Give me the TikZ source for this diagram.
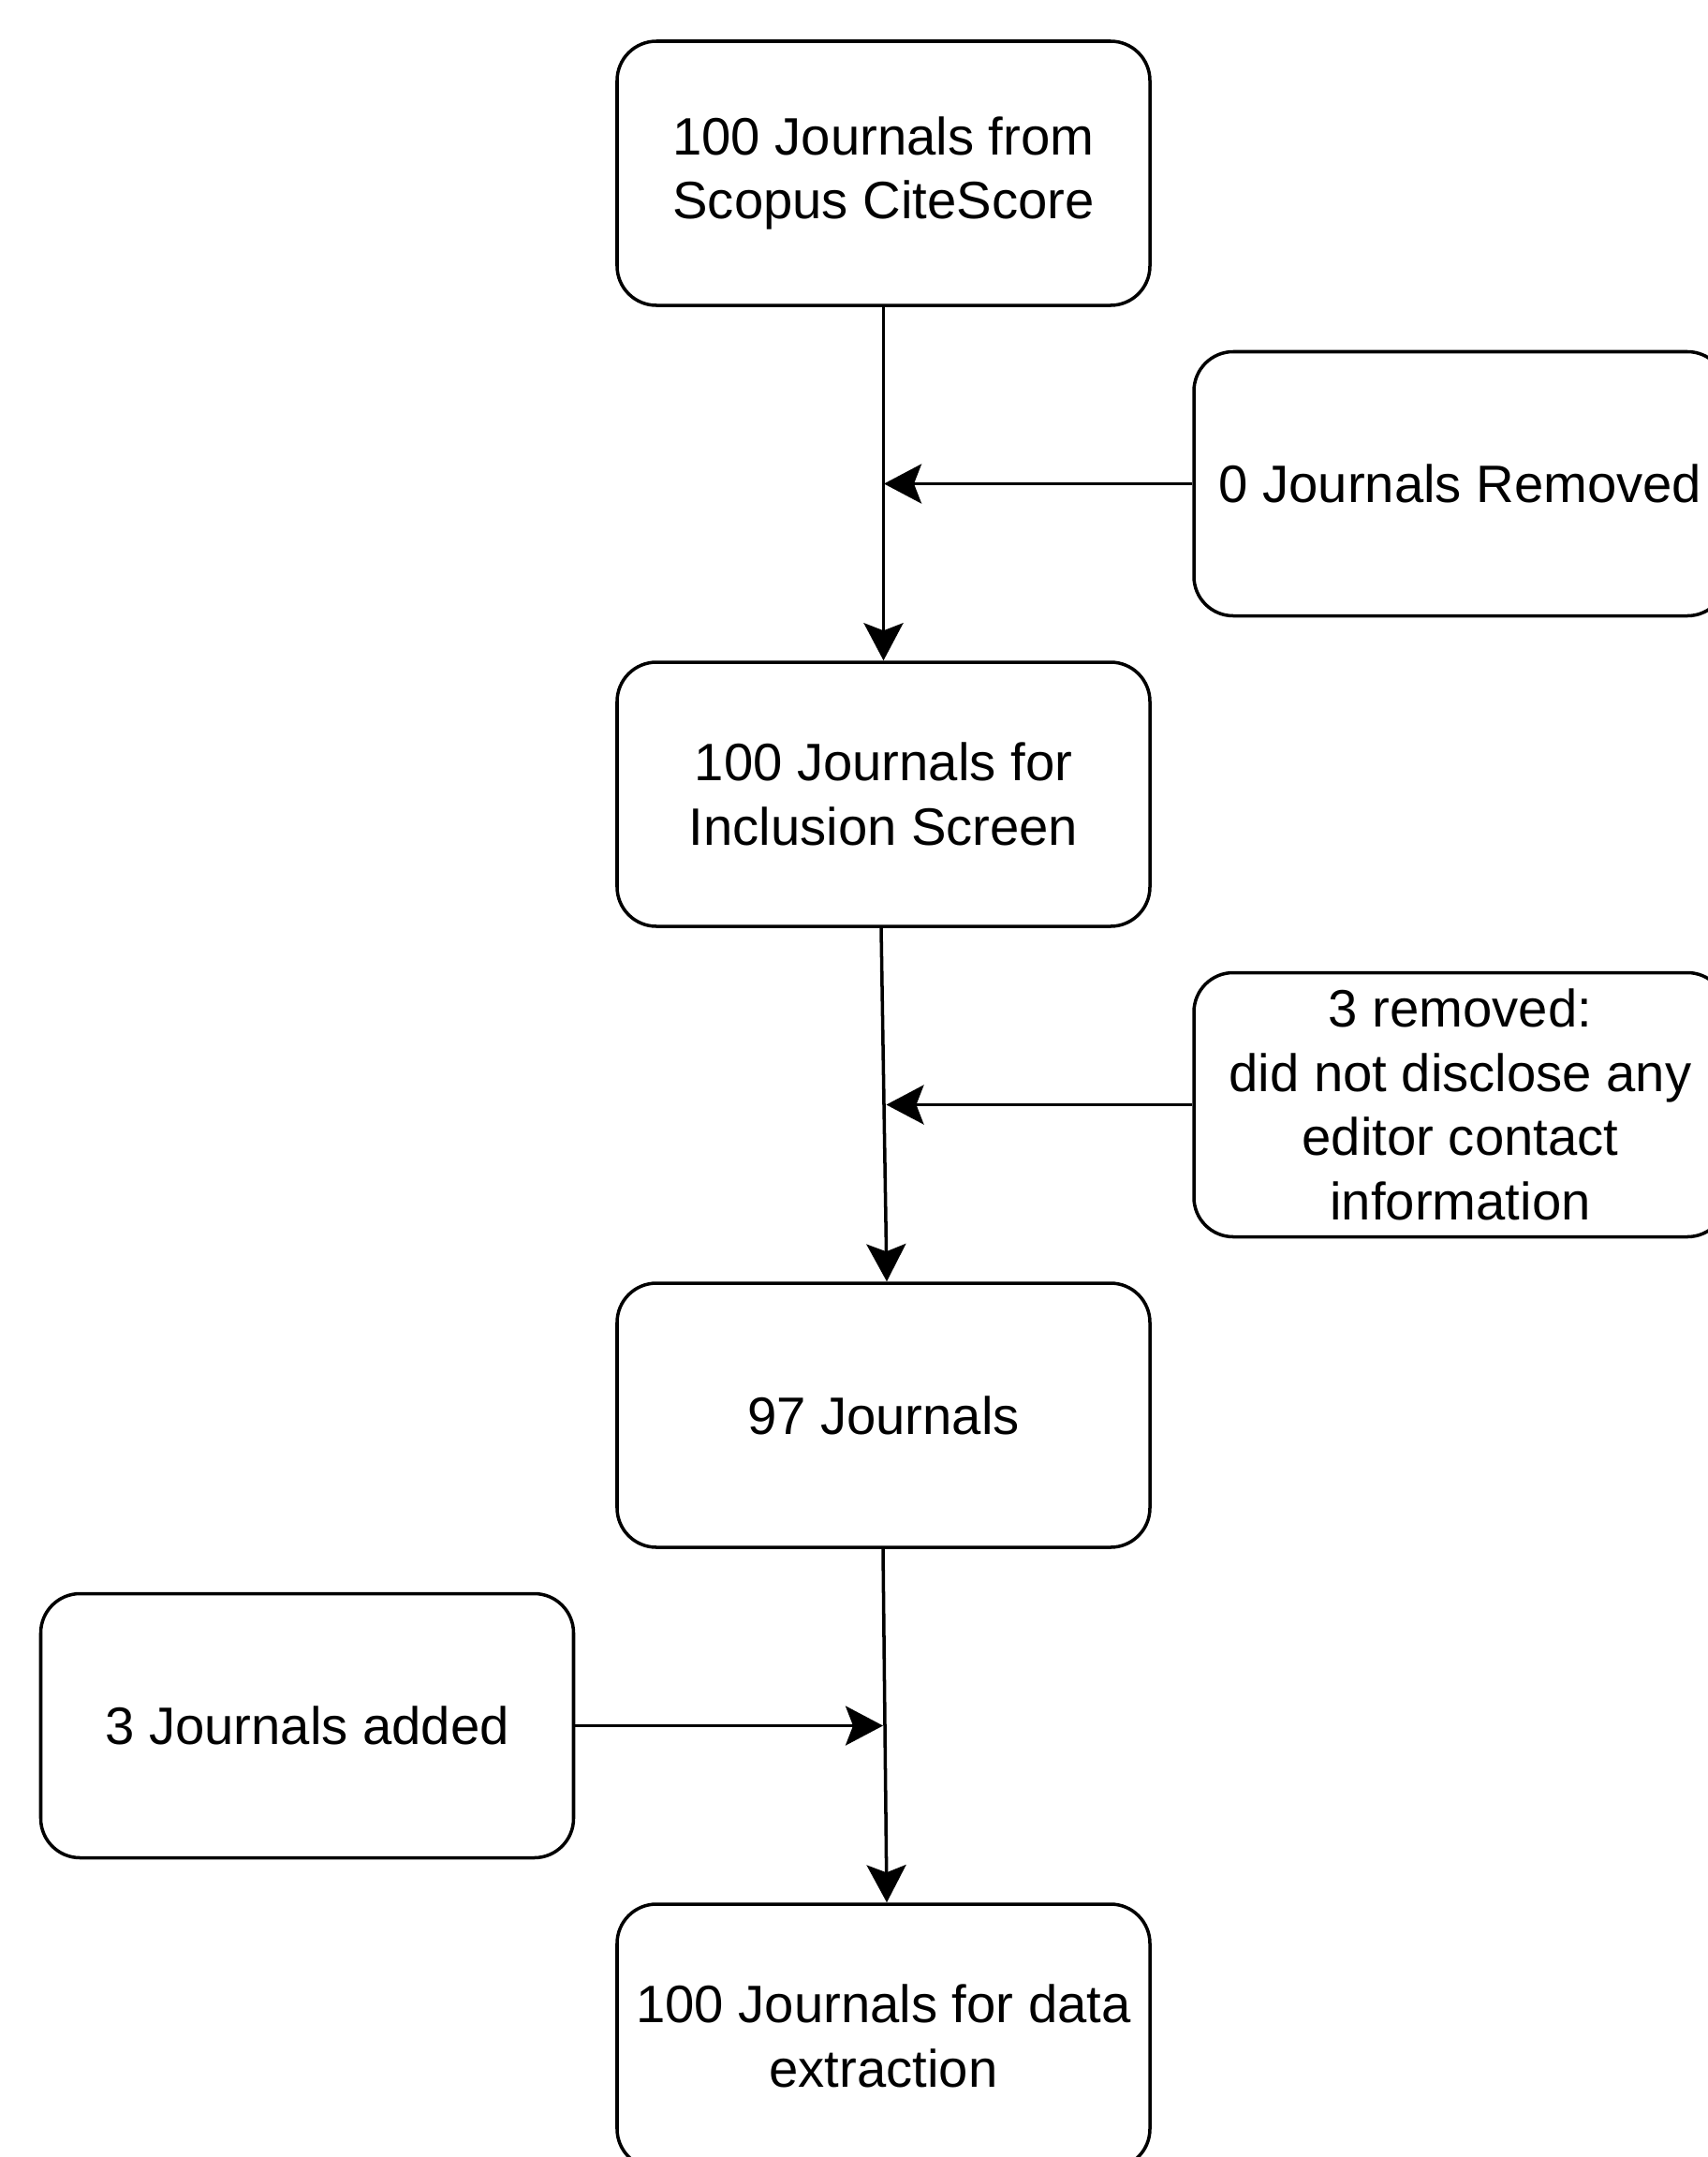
\documentclass[tikz,border=0pt]{standalone}
\usepackage{fontspec}
\setmainfont{Liberation Sans}
\usepackage{tikz}
\usetikzlibrary{arrows.meta}
\tikzset{
    every node/.style={rectangle, draw, rounded corners=0.42cm, line width=1pt,
    	minimum width=5.69cm, minimum height=2.82cm, align=center,
    	font=\fontsize{16pt}{19.5pt}\selectfont}
}
\tikzset{
    every edge/.append style={line width=1pt, -{Stealth[length=0.4cm, width=0.42cm, inset=0.08cm]}}
}

\begin{document}
\begin{tikzpicture}
	\useasboundingbox (0cm,0cm) rectangle (18.24cm,-23.03cm);

	\node (1) at (9.435cm,-1.85cm) {100 Journals from\\Scopus CiteScore};
	\node (2) at (15.595cm,-5.165cm) {0 Journals Removed};
	\node (3) at (9.435cm,-8.48cm) {100 Journals for\\Inclusion Screen};
	\node (4) at (15.595cm,-11.795cm) {3 removed:\\did not disclose any\\editor contact\\information};
	\node (5) at (9.435cm,-15.11cm) {97 Journals};
	\node (6) at (3.28cm,-18.425cm) {3 Journals added};
	\node (7) at (9.435cm,-21.74cm) {100 Journals for data\\extraction};

	\coordinate (a) at (9.44cm,-5.165cm);
	\coordinate (b) at (9.465cm,-11.795cm);
	\coordinate (c) at (9.43cm,-18.425cm);

	\draw (1) edge (3);
	\draw (2) edge (a);
	\draw ([xshift=-0.025cm]3.south) edge ([xshift=0.035cm]5.north);
	\draw (4) edge (b);
	\draw ([xshift=-0.005cm]5.south) edge ([xshift=0.035cm]7.north);
	\draw (6) edge (c);
\end{tikzpicture}
\end{document}
